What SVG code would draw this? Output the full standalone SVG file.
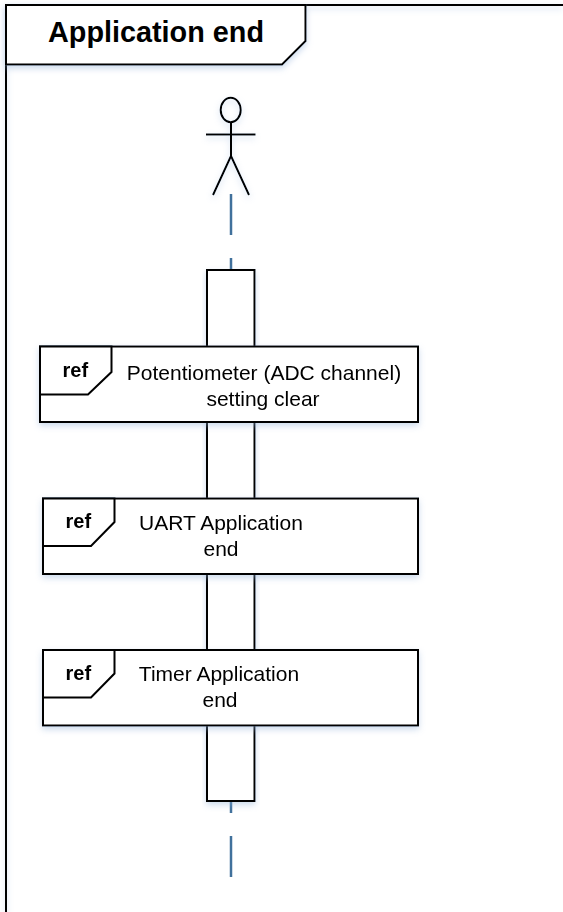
<svg xmlns="http://www.w3.org/2000/svg" width="563" height="912" viewBox="0 0 563 912">
<style>
.s{fill:none;stroke:#000;stroke-width:2}
.b{fill:#fff;stroke:#000;stroke-width:2}
.l{fill:none;stroke:#41719c;stroke-width:2.500}
text{font-family:"Liberation Sans",Arial,sans-serif;fill:#000}
.t{font-size:21px;text-anchor:middle}
.r{font-size:20px;font-weight:bold;text-anchor:middle}
</style>
<defs>
<filter id="sh" x="-10%" y="-10%" width="120%" height="130%"><feDropShadow dx="0" dy="3" stdDeviation="3" flood-color="#8fb0d8" flood-opacity="0.45"/></filter>
</defs>
<rect width="563" height="912" fill="#fff"/>
<g id="frame">
<path class="s" d="M6 912V5H563" filter="url(#sh)"/>
<path class="b" d="M6 5H305.500V41L282 64.500H6Z" filter="url(#sh)"/>
<text x="156" y="41.500" font-size="28.800" font-weight="bold" text-anchor="middle">Application end</text>
</g>
<g id="connectors">
<line class="l" x1="231" y1="194" x2="231" y2="235"/>
<line class="l" x1="231" y1="258" x2="231" y2="270"/>
<line class="l" x1="231" y1="801" x2="231" y2="813"/>
<line class="l" x1="231" y1="836" x2="231" y2="877"/>
</g>
<g id="actor" filter="url(#sh)">
<ellipse class="s" cx="230.700" cy="110" rx="10" ry="12.300"/>
<path class="s" d="M231 122V156M206 134.500H255.500M231 156L213 195M231 156L249 195"/>
</g>
<g id="activation">
<rect class="b" x="207" y="270" width="47.500" height="531" filter="url(#sh)"/>
</g>
<g id="ref1" filter="url(#sh)">
<rect class="b" x="40" y="346.500" width="378" height="75.500"/>
<path class="b" d="M40 346.500H111.500V372L88 394.500H40Z"/>
<text class="r" x="75.300" y="376.500">ref</text>
<text class="t" x="264" y="380">Potentiometer (ADC channel)</text>
<text class="t" x="263" y="406">setting clear</text>
</g>
<g id="ref2" filter="url(#sh)">
<rect class="b" x="43" y="498.500" width="375" height="75.500"/>
<path class="b" d="M43 498.500H114.500V522L91 546H43Z"/>
<text class="r" x="78.300" y="528">ref</text>
<text class="t" x="221" y="530">UART Application</text>
<text class="t" x="221" y="556">end</text>
</g>
<g id="ref3" filter="url(#sh)">
<rect class="b" x="43" y="650" width="375" height="75.500"/>
<path class="b" d="M43 650H114.500V673.500L91 697.500H43Z"/>
<text class="r" x="78.300" y="680">ref</text>
<text class="t" x="219" y="681">Timer Application</text>
<text class="t" x="220" y="707">end</text>
</g>
</svg>
